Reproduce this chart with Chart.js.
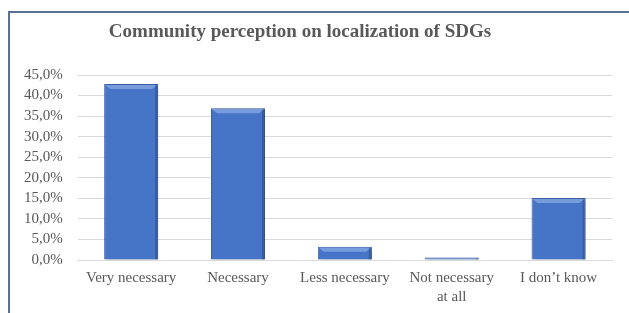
<!DOCTYPE html>
<html>
<head>
  <meta charset="utf-8">
  <title>Community perception on localization of SDGs</title>
  <script src="https://cdn.jsdelivr.net/npm/chart.js"></script>
  <style>
    body {
      margin: 0;
      background: white;
      overflow: hidden;
    }

    .frame {
      position: absolute;
      left: 8px;
      top: 11px;
      width: 640px;
      height: 320px;
      border-left: 2px solid #5b7190;
      border-top: 2px solid #5b7190;
    }

    .chart-container {
      position: absolute;
      left: 0;
      top: 0;
      width: 629px;
      height: 315px;
    }
  </style>
</head>
<body>
  <div class="frame"></div>
  <div class="chart-container">
    <canvas id="sdgChart"></canvas>
  </div>

  <script>
    const categories = ['Very necessary', 'Necessary', 'Less necessary', ['Not necessary', 'at all'], 'I don’t know'];
    const shares     = [42.8, 36.9, 3.2, 0.6, 15.1];   // percent of respondents
    const yTicks     = [0, 5, 10, 15, 20, 25, 30, 35, 40, 45];
    const chartTitle = 'Community perception on localization of SDGs';

    const serif = "'Liberation Serif', 'DejaVu Serif', serif";

    // title sits a bit left of the plot centre in the original, so draw it by hand
    const titlePlugin = {
      id: 'titlePlugin',
      afterDraw(chart) {
        const c = chart.ctx;
        c.save();
        c.font = 'bold 19px ' + serif;
        c.fillStyle = '#595959';
        c.textAlign = 'center';
        c.textBaseline = 'middle';
        c.fillText(chartTitle, 300, 32);
        c.restore();
      }
    };

    // soft drop shadow behind the bars, like the bevelled Excel look
    const barShadow = {
      id: 'barShadow',
      beforeDatasetDraw(chart) {
        const c = chart.ctx;
        c.save();
        c.shadowColor = 'rgba(0,0,0,0.35)';
        c.shadowBlur = 3;
        c.shadowOffsetX = 2;
        c.shadowOffsetY = 1;
      },
      afterDatasetDraw(chart) {
        chart.ctx.restore();
        // light bevel on top of each bar, darker right edge
        const c = chart.ctx;
        chart.getDatasetMeta(0).data.forEach(bar => {
          const h = Math.min(5, bar.base - bar.y);
          const w = bar.width;
          const l = bar.x - w / 2;
          c.save();
          c.fillStyle = 'rgba(160,190,240,0.55)';
          c.beginPath();
          c.moveTo(l + 1, bar.y + 1);
          c.lineTo(l + w - 1, bar.y + 1);
          c.lineTo(l + w - 1 - h, bar.y + h);
          c.lineTo(l + 1 + h, bar.y + h);
          c.closePath();
          c.fill();
          c.fillStyle = 'rgba(30,50,100,0.35)';
          c.fillRect(l + w - 3, bar.y + 1, 2, bar.base - bar.y - 1);
          c.restore();
        });
      }
    };

    const ctx = document.getElementById('sdgChart').getContext('2d');
    const chart = new Chart(ctx, {
      type: 'bar',
      data: {
        labels: categories,
        datasets: [{
          data: shares,
          backgroundColor: '#4674c6',
          borderColor: '#3d63a9',
          borderWidth: 1,
          categoryPercentage: 1.0,
          barPercentage: 0.506
        }]
      },
      options: {
        responsive: true,
        maintainAspectRatio: false,
        animation: false,
        layout: { padding: { left: 9, right: 17, top: 75, bottom: 0 } },
        plugins: {
          legend: { display: false },
          tooltip: { enabled: false },
          title: { display: false }
        },
        scales: {
          x: {
            grid: { display: false, drawTicks: false },
            border: { color: '#d9d9d9' },
            ticks: {
              color: '#595959',
              font: { family: serif, size: 15, lineHeight: 1.3 },
              padding: 8,
              maxRotation: 0,
              autoSkip: false
            }
          },
          y: {
            min: 0,
            max: 45,
            afterBuildTicks: axis => { axis.ticks = yTicks.map(v => ({ value: v })); },
            grid: { color: '#d9d9d9', drawTicks: false },
            border: { display: false },
            ticks: {
              color: '#595959',
              font: { family: serif, size: 15 },
              padding: 15,
              autoSkip: false,
              callback: v => v.toFixed(1).replace('.', ',') + '%'
            }
          }
        }
      },
      plugins: [barShadow, titlePlugin]
    });
  </script>
</body>
</html>
